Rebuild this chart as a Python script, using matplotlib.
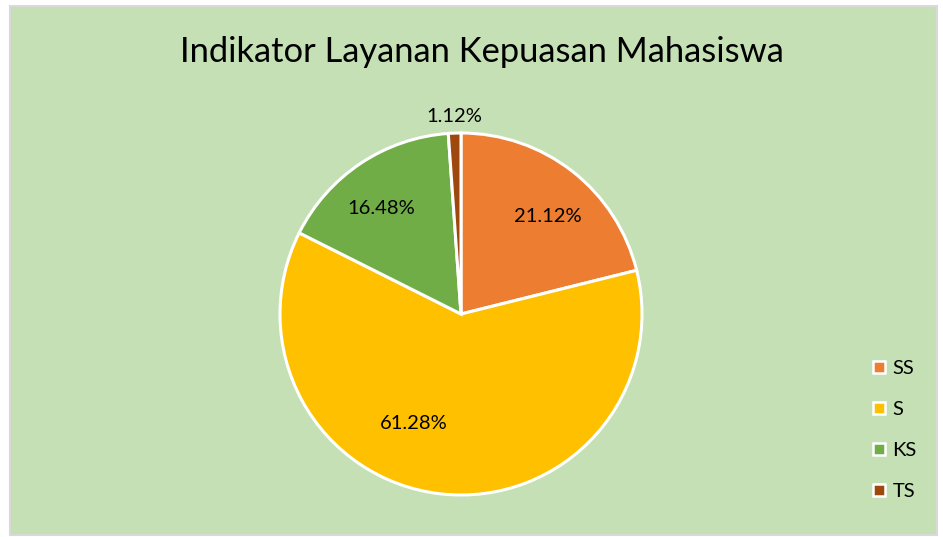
import numpy as np
import matplotlib.pyplot as plt
from matplotlib.patches import Rectangle
from matplotlib.lines import Line2D

#-------------------- data --------------------
labels = ['SS', 'S', 'KS', 'TS']
values = [21.12, 61.28, 16.48, 1.12]
colors = ['#ED7D31', '#FFC000', '#70AD47', '#9E480E']
title = 'Indikator Layanan Kepuasan Mahasiswa'

# label placement: radial distance and angular shift (deg) from wedge middle
lab_dist  = [0.72, 0.66, 0.73, 1.09]
lab_shift = [-3.5, -17.0, 3.5, 0.0]

plt.rcParams['font.family'] = ['Lato', 'DejaVu Sans']

fig = plt.figure(figsize=(9.43, 5.37), dpi=100)
fig.patch.set_facecolor('white')

# chart area background with grey border
fig.patches.append(Rectangle((10/943, 2/537), 927/943, 529/537, transform=fig.transFigure,
                             facecolor='#C5E0B4', edgecolor='#D9D9D9', linewidth=1.5, zorder=-5))

fig.text(482/943, 1 - 52/537, title, ha='center', va='center', fontsize=24.8)

# pie axes: centre (461, 314), radius ~181 px
r = 181
ax = fig.add_axes([(461 - r)/943, 1 - (314 + r)/537, 2*r/943, 2*r/537])
ax.set_facecolor('none')
ax.set_zorder(2)

wedges, texts, autotexts = ax.pie(values, colors=colors, startangle=90, counterclock=False,
                                  autopct='%.2f%%', pctdistance=0.7,
                                  wedgeprops=dict(edgecolor='white', linewidth=2.2),
                                  textprops=dict(fontsize=14.5))
ax.set_xlim(-1, 1)
ax.set_ylim(-1, 1)
ax.set_aspect('equal')

for w, t, d, s in zip(wedges, autotexts, lab_dist, lab_shift):
    w.set_clip_on(False)
    t.set_clip_on(False)
    ang = np.deg2rad((w.theta1 + w.theta2) / 2 + s)
    t.set_position((d * np.cos(ang), d * np.sin(ang)))

# legend
handles = [Line2D([], [], marker='s', linestyle='none', markersize=9,
                  markerfacecolor=c, markeredgecolor='white', markeredgewidth=1.8)
           for c in colors]
fig.legend(handles, labels, loc='center left', bbox_to_anchor=(853/943, 1 - 430/537),
           frameon=False, fontsize=14.5, labelspacing=1.2, handlelength=0.8,
           handletextpad=0.25)

plt.savefig('out.png', dpi=100)
